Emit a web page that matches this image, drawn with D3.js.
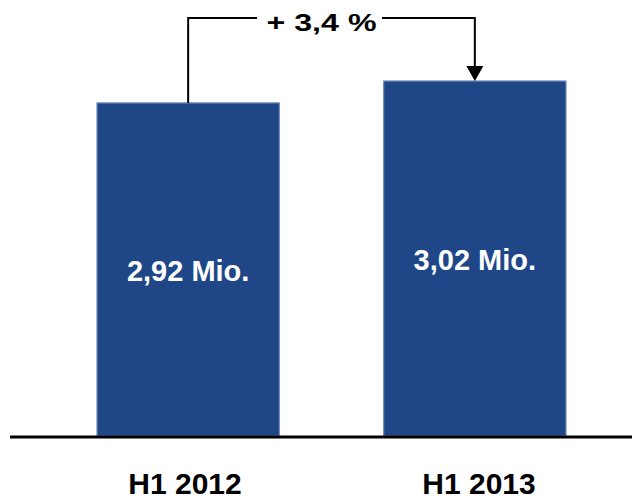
<!DOCTYPE html>
<html>
<head>
<meta charset="utf-8">
<script src="https://cdn.jsdelivr.net/npm/d3@7"></script>
<style>
  body { margin: 0; background: #fff; }
  text { font-family: "Liberation Sans", Arial, sans-serif; font-weight: bold; }
</style>
</head>
<body>
<div id="chart"></div>
<script>
const periods = ['H1 2012', 'H1 2013'];
const visitors = [2.92, 3.02];
const valueLabels = ['2,92 Mio.', '3,02 Mio.'];
const changeLabel = '+ 3,4 %';

const width = 632;
const height = 499;
const baseY = 436;

const svg = d3.select('#chart')
  .append('svg')
    .attr('width', width)
    .attr('height', height);

const xScale = d3.scaleBand()
  .domain(periods)
  .range([11, 652])
  .paddingInner(0.364)
  .paddingOuter(0.3);

// category labels sit a little apart from the bar centres
const labelScale = d3.scalePoint()
  .domain(periods)
  .range([185, 479]);

// value axis is cut off below the baseline in the original
const yScale = d3.scaleLinear()
  .domain([1.4, 3.02])
  .range([baseY, 81]);

const data = periods.map((p, i) => ({period: p, value: visitors[i], label: valueLabels[i]}));

svg.append('g')
  .selectAll('rect')
  .data(data)
  .join('rect')
    .attr('x', d => xScale(d.period))
    .attr('y', d => yScale(d.value))
    .attr('width', xScale.bandwidth())
    .attr('height', d => baseY - yScale(d.value))
    .attr('fill', '#1f4788')
    .attr('stroke', '#7189b6')
    .attr('stroke-width', 1.2);

svg.append('g')
  .selectAll('text')
  .data(data)
  .join('text')
    .attr('x', d => xScale(d.period) + xScale.bandwidth() / 2)
    .attr('y', d => (yScale(d.value) + baseY) / 2 + 11.5)
    .attr('text-anchor', 'middle')
    .attr('fill', '#fff')
    .attr('font-size', 29)
    .text(d => d.label);

// baseline
svg.append('line')
  .attr('x1', 10)
  .attr('x2', width)
  .attr('y1', baseY + 1)
  .attr('y2', baseY + 1)
  .attr('stroke', '#000')
  .attr('stroke-width', 3);

svg.append('g')
  .selectAll('text')
  .data(periods)
  .join('text')
    .attr('x', d => labelScale(d))
    .attr('y', 493.5)
    .attr('text-anchor', 'middle')
    .attr('fill', '#000')
    .attr('font-size', 30)
    .text(d => d);

// growth bracket
const cx1 = xScale(periods[0]) + xScale.bandwidth() / 2;
const cx2 = xScale(periods[1]) + xScale.bandwidth() / 2;
const bracketY = 18;
const tipY = yScale(visitors[1]);

svg.append('path')
  .attr('d', `M${cx1},${yScale(visitors[0])} V${bracketY} H257`)
  .attr('fill', 'none')
  .attr('stroke', '#000')
  .attr('stroke-width', 2);

svg.append('path')
  .attr('d', `M382,${bracketY} H${cx2} V${tipY - 14}`)
  .attr('fill', 'none')
  .attr('stroke', '#000')
  .attr('stroke-width', 2);

svg.append('path')
  .attr('d', `M${cx2 - 8.5},${tipY - 15} L${cx2 + 8.5},${tipY - 15} L${cx2},${tipY} Z`)
  .attr('fill', '#000');

svg.append('text')
  .attr('x', 266.5)
  .attr('y', 30.5)
  .attr('font-size', 24)
  .attr('fill', '#000')
  .attr('textLength', 110)
  .attr('lengthAdjust', 'spacingAndGlyphs')
  .text(changeLabel);
</script>
</body>
</html>
